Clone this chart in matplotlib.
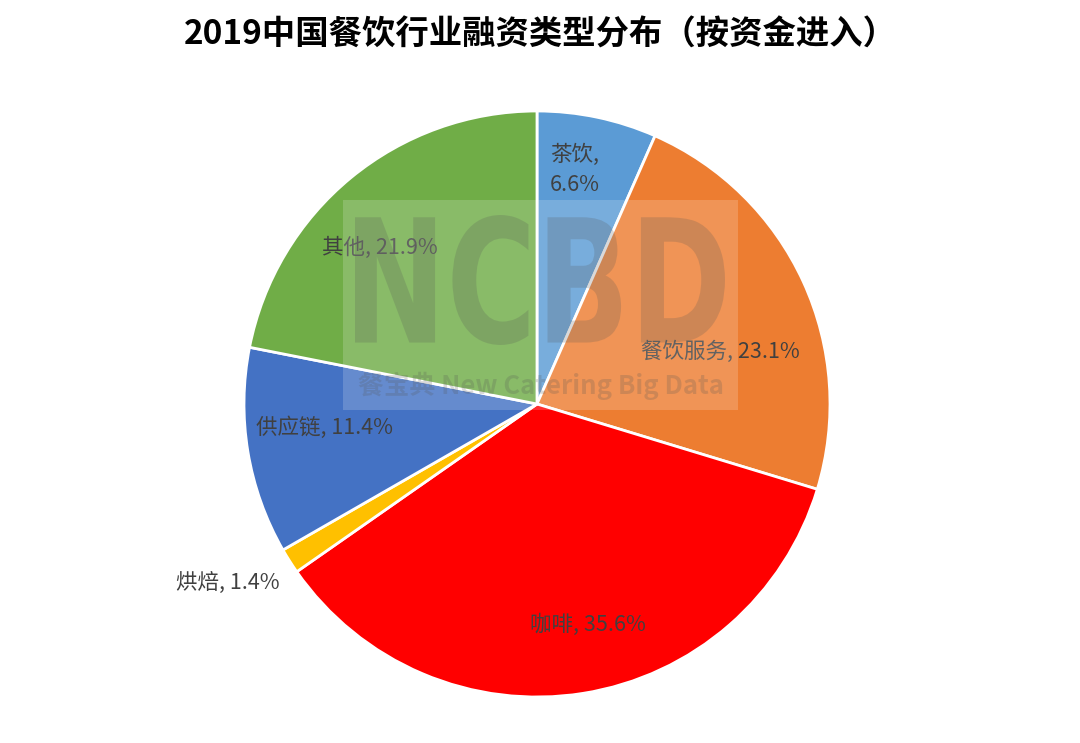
import matplotlib.pyplot as plt
from matplotlib.patches import Rectangle, PathPatch
from matplotlib.textpath import TextPath
from matplotlib.font_manager import FontProperties
from matplotlib.transforms import Affine2D

plt.rcParams['font.family'] = ['Noto Sans CJK SC', 'DejaVu Sans']

categories = ['茶饮', '餐饮服务', '咖啡', '烘焙', '供应链', '其他']
shares = [6.6, 23.1, 35.6, 1.4, 11.4, 21.9]
colors = ['#5B9BD5', '#ED7D31', '#FF0000', '#FFC000', '#4472C4', '#70AD47']
title = '2019中国餐饮行业融资类型分布（按资金进入）'

# label placement (pie data coordinates, radius = 1)
label_xy = [(0.13, 0.80), (0.625, 0.177), (0.174, -0.754),
            (-1.055, -0.611), (-0.724, -0.082), (-0.536, 0.532)]

W, H = 1080, 743
fig = plt.figure(figsize=(W / 100, H / 100), dpi=100)
R = 293
cx, cy = 537, H - 404
ax = fig.add_axes([(cx - R) / W, (cy - R) / H, 2 * R / W, 2 * R / H])

ax.pie(shares, colors=colors, startangle=90, counterclock=False, radius=1,
       wedgeprops=dict(edgecolor='white', linewidth=2))
ax.set_xlim(-1, 1)
ax.set_ylim(-1, 1)
ax.set_aspect('equal')
ax.axis('off')

for (x, y), name, v in zip(label_xy, categories, shares):
    txt = f'{name},\n{v}%' if name == '茶饮' else f'{name}, {v}%'
    ax.text(x, y, txt, ha='center', va='center', fontsize=15.5,
            color='#404040', linespacing=1.45)

# NCBD watermark
fig.patches.append(Rectangle((343 / W, 1 - 410 / H), 395 / W, 210 / H,
                             transform=fig.transFigure, facecolor='white',
                             alpha=0.18, edgecolor='none', zorder=5))
tp = TextPath((0, 0), 'NCBD', size=1,
              prop=FontProperties(family='DejaVu Sans', weight='bold'))
ext = tp.get_extents()
sx = 370 / ext.width
sy = 130 / ext.height
tr = Affine2D().translate(-ext.x0, -ext.y0).scale(sx, sy).translate(355, H - 345)
fig.patches.append(PathPatch(tp, transform=tr, facecolor='#555555',
                             edgecolor='none', alpha=0.22, zorder=6))
fig.text(541 / W, 1 - 386 / H, '餐宝典 New Catering Big Data', ha='center',
         va='center', fontsize=18.5, fontweight='bold', color='#555555',
         alpha=0.22, zorder=6)

fig.text(0.5, 1 - 35 / H, title, ha='center', va='center', fontsize=24,
         fontweight='bold', color='black')

fig.savefig('out.png', dpi=100, facecolor='white')
